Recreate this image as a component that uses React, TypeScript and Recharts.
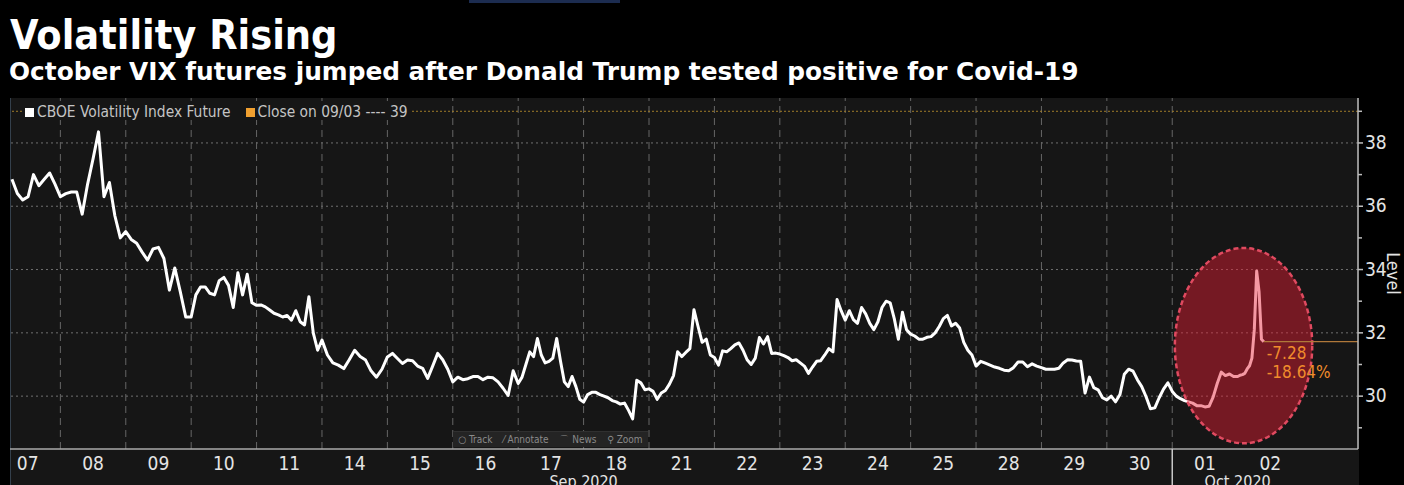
import React from "react";
import { LineChart, Line, XAxis, YAxis, ReferenceLine, ReferenceArea } from "recharts";

// trading sessions shown on the axis
const tradingDays = ["07", "08", "09", "10", "11", "14", "15", "16", "17", "18", "21", "22", "23", "24", "25", "28", "29", "30", "01", "02"];
const monthNames = ["Sep 2020", "Oct 2020"];
const monthFirstDay = [0, 18];
const monthLastDay = [17, 19];

// intraday levels, spread evenly over each session
const sep07 = [36.85, 36.4, 36.2, 36.3, 37.0, 36.65, 36.85, 37.05, 36.7];
const sep08 = [36.3, 36.4, 36.45, 36.45, 35.75, 36.7, 37.5, 38.35, 36.3, 36.75, 35.7, 35.0];
const sep09 = [35.2, 34.95, 34.83, 34.55, 34.3, 34.65, 34.7, 34.35, 33.35, 34.05, 33.3, 32.5];
const sep10 = [32.5, 33.2, 33.45, 33.45, 33.25, 33.2, 33.65, 33.75, 33.5, 32.8, 33.9, 33.2, 33.85, 32.95];
const sep11 = [32.87, 32.88, 32.82, 32.72, 32.62, 32.57, 32.5, 32.55, 32.4, 32.7, 32.35, 32.25, 33.14, 32.0, 31.45];
const sep14 = [31.77, 31.3, 31.05, 30.98, 30.87, 31.15, 31.45, 31.25, 31.14, 30.8, 30.6, 30.85];
const sep15 = [31.24, 31.35, 31.19, 31.03, 31.14, 31.12, 30.95, 30.88, 30.56, 30.95, 31.35, 31.15, 30.85];
const sep16 = [30.45, 30.6, 30.52, 30.55, 30.62, 30.62, 30.52, 30.6, 30.58, 30.45, 30.25, 30.02, 30.8];
const sep17 = [30.4, 30.6, 31.0, 31.4, 31.25, 31.82, 31.3, 31.05, 31.1, 31.2, 31.82, 31.1, 30.45, 30.3, 30.62, 30.3, 29.9];
const sep18 = [29.81, 30.05, 30.12, 30.12, 30.05, 30.0, 29.95, 29.86, 29.82, 29.75, 29.78, 29.55, 29.28, 30.5, 30.42, 30.2];
const sep21 = [30.23, 30.15, 29.9, 30.1, 30.18, 30.38, 30.65, 31.4, 31.25, 31.38, 31.5, 32.73, 32.2, 31.7, 31.8, 31.3];
const sep22 = [31.22, 30.98, 31.43, 31.4, 31.5, 31.62, 31.68, 31.45, 31.15, 31.0, 31.2, 31.85, 31.65, 31.88, 31.35, 31.36];
const sep23 = [31.33, 31.28, 31.22, 31.12, 31.15, 31.05, 30.95, 30.72, 30.92, 31.1, 31.12, 31.3, 31.5, 31.4, 33.05, 32.7];
const sep24 = [32.4, 32.7, 32.42, 32.3, 32.8, 32.6, 32.3, 32.1, 32.35, 32.8, 33.0, 32.95, 32.45, 31.8, 32.65, 32.1];
const sep25 = [31.96, 31.9, 31.8, 31.8, 31.86, 31.88, 32.0, 32.2, 32.45, 32.55, 32.22, 32.3, 32.15, 31.7, 31.45, 31.3];
const sep28 = [30.95, 31.1, 31.04, 30.98, 30.92, 30.88, 30.82, 30.8, 30.9, 31.08, 31.08, 30.93, 31.02, 30.95];
const sep29 = [30.9, 30.85, 30.85, 30.85, 30.88, 31.05, 31.15, 31.14, 31.11, 31.1, 30.1, 30.6, 30.27, 30.2, 29.95];
const sep30 = [29.88, 30.0, 29.82, 30.05, 30.69, 30.85, 30.79, 30.52, 30.3, 29.98, 29.6, 29.63, 29.95, 30.22, 30.42];
const oct01 = [30.15, 30.0, 29.92, 29.86, 29.82, 29.78, 29.7, 29.7, 29.66, 29.68, 29.97, 30.4, 30.76, 30.65, 30.7, 30.62];
const oct02 = [30.62, 30.66, 30.68, 30.72, 30.86, 30.96, 31.2, 32.1, 33.95, 33.3, 31.8, 31.72];

const intraday = [sep07, sep08, sep09, sep10, sep11, sep14, sep15, sep16, sep17, sep18, sep21, sep22, sep23, sep24, sep25, sep28, sep29, sep30, oct01, oct02];
const firstSessionStart = 0.26; // chart window opens partway through 07 Sep
const lastSessionEnd = 0.4; // last print on 02 Oct

const closeOn0903 = 39;
const lastLevel = 31.72;
const changeLabel = "-7.28";
const pctLabel = "-18.64%";
const gridLevels = [30, 32, 34, 36, 38];
const axisLevels = [29, 30, 31, 32, 33, 34, 35, 36, 37, 38, 39];
const highlight = { x1: 18.04, x2: 20.14, y1: 28.51, y2: 34.68 };

const X_DOMAIN: [number, number] = [0.23, 20.84];
const Y_DOMAIN: [number, number] = [28.33, 39.42];

const narrow = '"Liberation Sans Narrow", "DejaVu Sans Condensed", "Arial Narrow", sans-serif';
const headFont = '"DejaVu Sans Condensed", "DejaVu Sans", sans-serif';

const data = intraday.flatMap((vals, d) => {
  const last = d === intraday.length - 1;
  const start = d === 0 ? firstSessionStart : 0;
  return vals.map((level, i) => ({
    t: last ? d + (lastSessionEnd * i) / (vals.length - 1) : d + start + ((1 - start) * i) / vals.length,
    level,
  }));
});
const lastT = data[data.length - 1].t;

const dayTicks = tradingDays.map((_, i) => i + 0.5);
const monthCenters = monthFirstDay.map((f, i) => (f + monthLastDay[i] + 1) / 2);
const monthBoundaries = monthFirstDay.slice(1);

const DayTick = (props: any) => {
  const { x, y, payload } = props;
  return (
    <text x={x} y={y + 21} textAnchor="middle" fill="#e4e4e4" fontSize={19} fontFamily={narrow}>
      {tradingDays[Math.floor(payload.value)]}
    </text>
  );
};

const MonthTick = (props: any) => {
  const { x, y, payload } = props;
  if (monthBoundaries.includes(payload.value)) {
    return <line x1={x} x2={x} y1={y - 22} y2={y + 16} stroke="#c8c8c8" strokeWidth={1.5} />;
  }
  const idx = monthCenters.indexOf(payload.value);
  return (
    <text x={x} y={y + 16} textAnchor="middle" fill="#e4e4e4" fontSize={16} fontFamily={narrow}>
      {monthNames[idx]}
    </text>
  );
};

const LevelTick = (props: any) => {
  const { x, y, payload } = props;
  const major = gridLevels.includes(payload.value);
  return (
    <g>
      <line x1={x} x2={x + (major ? 5 : 4)} y1={y} y2={y} stroke="#bdbdbd" strokeWidth={1.5} />
      {major && (
        <text x={x + 7} y={y + 6} fill="#e4e4e4" fontSize={19} fontFamily={narrow}>
          {payload.value}
        </text>
      )}
    </g>
  );
};

const LevelLabel = (props: any) => {
  const { x, y, height } = props.viewBox;
  const cx = x + 29;
  const cy = y + height / 2;
  return (
    <text x={cx} y={cy} transform={`rotate(90 ${cx} ${cy})`} textAnchor="middle" fill="#e4e4e4" fontSize={18} fontFamily={narrow}>
      Level
    </text>
  );
};

const Highlight = (props: any) => {
  const { x, y, width, height } = props;
  return (
    <ellipse
      cx={x + width / 2}
      cy={y + height / 2}
      rx={width / 2}
      ry={height / 2}
      fill="rgba(232, 28, 52, 0.45)"
      stroke="#e04a60"
      strokeWidth={2.5}
      strokeDasharray="5 3"
    />
  );
};

const ChangeLabel = (props: any) => {
  const { x, y } = props.viewBox;
  return (
    <g fontFamily={narrow} fontSize={17} fill="#f08c2c">
      <text x={x + 3} y={y + 17}>{changeLabel}</text>
      <text x={x + 3} y={y + 36}>{pctLabel}</text>
    </g>
  );
};

export default function App() {
  return (
    <div style={{ position: "absolute", left: 0, top: 0, width: 1404, height: 485, background: "#000", overflow: "hidden" }}>
      <div style={{ position: "absolute", left: 469, top: 0, width: 151, height: 3, background: "#1c2c50" }} />
      <div style={{ position: "absolute", left: 10, top: 12, color: "#fff", fontFamily: headFont, fontWeight: 700, fontSize: 41, lineHeight: "46px", whiteSpace: "nowrap" }}>
        Volatility Rising
      </div>
      <div style={{ position: "absolute", left: 9, top: 57, color: "#fff", fontFamily: '"DejaVu Sans", sans-serif', fontWeight: 700, fontSize: 24.8, lineHeight: "30px", whiteSpace: "nowrap" }}>
        October VIX futures jumped after Donald Trump tested positive for Covid-19
      </div>
      {/* chart panel */}
      <div style={{ position: "absolute", left: 10, top: 98, width: 1348, height: 387, background: "#161616", borderLeft: "1px solid #34404c" }} />
      <div style={{ position: "absolute", left: 0, top: 0 }}>
        <LineChart width={1404} height={485} data={data} margin={{ top: 98, right: 0, bottom: 0, left: 10 }}>
          <XAxis
            dataKey="t"
            type="number"
            domain={X_DOMAIN}
            allowDataOverflow
            ticks={dayTicks}
            interval={0}
            tick={<DayTick />}
            tickLine={false}
            tickSize={0}
            tickMargin={0}
            height={22}
            axisLine={{ stroke: "#aaaaaa", strokeWidth: 1.5 }}
          />
          <XAxis
            xAxisId="month"
            dataKey="t"
            type="number"
            domain={X_DOMAIN}
            allowDataOverflow
            ticks={[...monthCenters, ...monthBoundaries]}
            interval={0}
            tick={<MonthTick />}
            tickLine={false}
            tickSize={0}
            tickMargin={0}
            height={14}
            axisLine={false}
          />
          <YAxis
            orientation="right"
            type="number"
            domain={Y_DOMAIN}
            allowDataOverflow
            ticks={axisLevels}
            interval={0}
            width={46}
            tick={<LevelTick />}
            tickLine={false}
            tickSize={0}
            tickMargin={0}
            axisLine={{ stroke: "#bdbdbd", strokeWidth: 1.5 }}
            label={{ value: "Level", content: <LevelLabel /> }}
          />
          {gridLevels.map((v) => (
            <ReferenceLine key={`h${v}`} y={v} stroke="#707070" strokeDasharray="2 3" strokeWidth={1} />
          ))}
          {tradingDays.slice(1, -1).map((_, i) => (
            <ReferenceLine key={`v${i}`} x={i + 1} stroke="#666666" strokeDasharray="7 5" strokeWidth={1} />
          ))}
          <ReferenceLine y={closeOn0903} stroke="#a07c2a" strokeDasharray="2 2" strokeWidth={1} />
          <Line dataKey="level" type="linear" stroke="#ffffff" strokeWidth={3} strokeLinejoin="round" dot={false} isAnimationActive={false} />
          <ReferenceArea
            x1={highlight.x1}
            x2={highlight.x2}
            y1={highlight.y1}
            y2={highlight.y2}
            shape={<Highlight />}
            zIndex={450}
            ifOverflow="visible"
          />
          <ReferenceLine
            segment={[{ x: lastT, y: lastLevel }, { x: X_DOMAIN[1], y: lastLevel }]}
            stroke="#b0783a"
            strokeWidth={1.2}
            zIndex={460}
            label={<ChangeLabel />}
          />
        </LineChart>
      </div>
      {/* legend */}
      <div style={{ position: "absolute", left: 22, top: 104, height: 16, paddingRight: 4, background: "#161616", display: "flex", alignItems: "center", fontFamily: narrow, fontSize: 15.4, color: "#c4c4c4", whiteSpace: "nowrap" }}>
        <span style={{ width: 9, height: 9, background: "#fff", marginRight: 3, marginLeft: 3 }} />
        <span>CBOE Volatility Index Future</span>
        <span style={{ width: 9, height: 9, background: "#f0a030", marginLeft: 16, marginRight: 2 }} />
        <span>Close on 09/03 ---- 39</span>
      </div>
      {/* terminal toolbar */}
      <div style={{ position: "absolute", left: 453, top: 431, width: 195, height: 15, background: "#242424", borderTop: "1px solid #303030", fontFamily: narrow, fontSize: 10, color: "#8a8a8a", display: "flex", alignItems: "center", justifyContent: "space-around", whiteSpace: "nowrap" }}>
        <span>○ Track</span>
        <span>⁄ Annotate</span>
        <span>⌒ News</span>
        <span>⚲ Zoom</span>
      </div>
    </div>
  );
}
